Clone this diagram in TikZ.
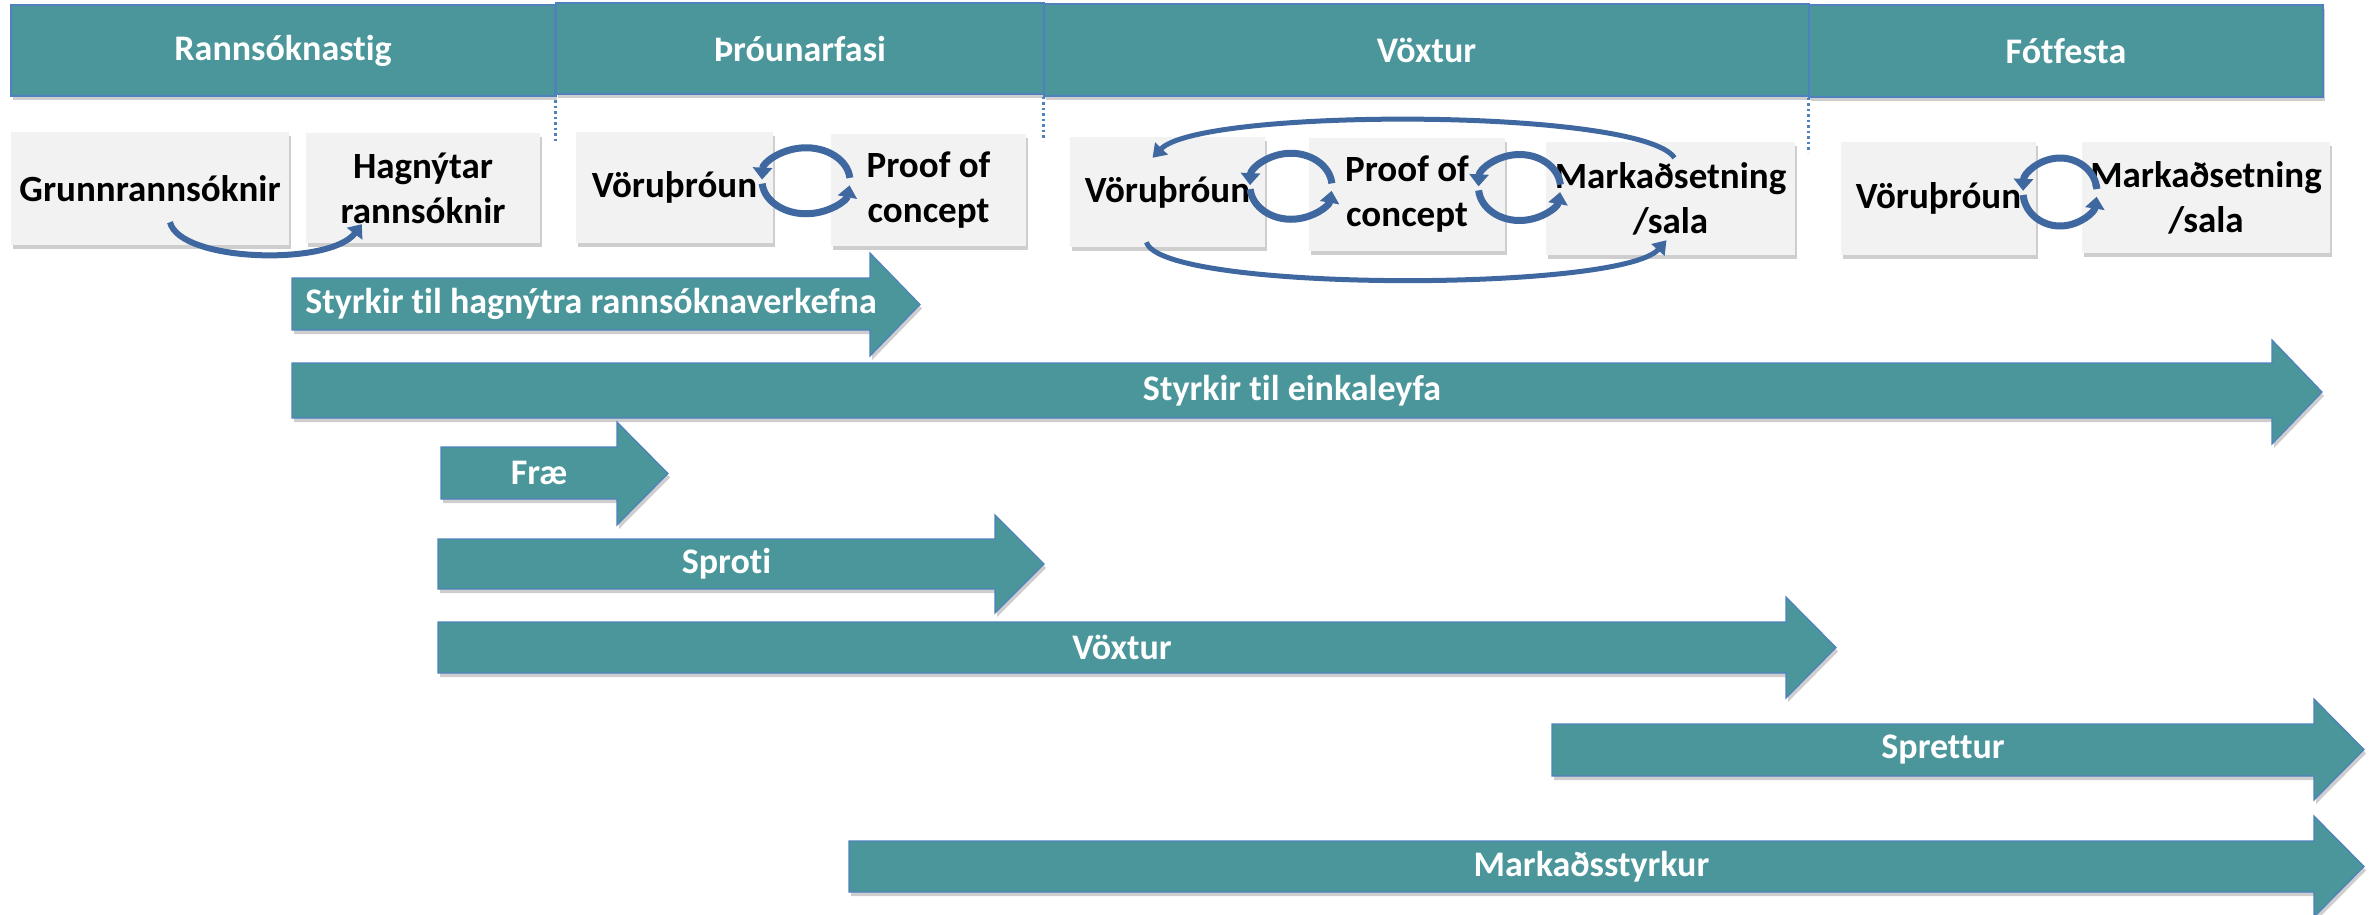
\documentclass[tikz,border=0pt]{standalone}
\usepackage{fontspec}
\setmainfont{Carlito}[Ligatures=NoCommon]
\usetikzlibrary{arrows.meta,shadows,calc}
\definecolor{tealfill}{RGB}{74,150,155}
\definecolor{tealedge}{RGB}{79,129,189}
\definecolor{greyfill}{RGB}{242,242,242}
\definecolor{loopblue}{RGB}{64,104,160}
\definecolor{dotblue}{RGB}{79,129,189}
\tikzset{
  softshadow/.style={drop shadow={shadow xshift=2pt, shadow yshift=-4pt, opacity=0.35, fill=black!55}},
  hdr/.style={fill=tealfill, draw=tealedge, line width=1.2pt, text=white,
    font=\bfseries\fontsize{36}{44}\selectfont, inner sep=0pt, softshadow},
  gbox/.style={fill=greyfill, text=black, align=center,
    font=\bfseries\fontsize{37}{45}\selectfont, inner sep=0pt, softshadow},
  arrbody/.style={fill=tealfill, draw=tealedge, line width=1.2pt, softshadow},
  arrlabel/.style={text=white, font=\bfseries\fontsize{36}{44}\selectfont, inner sep=0pt},
  cyc/.style={draw=loopblue, line width=7pt, -{Triangle[width=19pt,length=12pt]}},
  bigloop/.style={draw=loopblue, line width=5pt, -{Triangle[width=17pt,length=13pt]}},
  dotline/.style={draw=dotblue, line width=2.5pt, dash pattern=on 2.5pt off 3pt}
}
\newcommand\mkbox[7]{\node[#6, minimum width={(#4)-(#2)}, minimum height={(#5)-(#3)}] (#1) at ({((#2)+(#4))/2},{((#3)+(#5))/2}) {#7};}
\newcommand\mkarrow[9]{%
  \path[arrbody] (#1,#4) -- (#2,#4) -- (#2,#6) -- (#3,{((#6)+(#7))/2}) -- (#2,#7) -- (#2,#5) -- (#1,#5) -- cycle;
  \node[arrlabel] (#9) at ({((#1)+(#2))/2+10},{((#4)+(#5))/2}) {#8};}
\begin{document}
\begin{tikzpicture}[x=1pt,y=-1pt]
\useasboundingbox (0,0) rectangle (2377,914);
% header bars
\mkbox{h1}{11}{5}{555}{96}{hdr}{Rannsóknastig}
\mkbox{h2}{556}{3}{1044}{94}{hdr}{Þróunarfasi}
\mkbox{h3}{1044}{4}{1809}{96}{hdr}{Vöxtur}
\mkbox{h4}{1809}{5}{2323}{97}{hdr}{Fótfesta}
% dotted separators
\draw[dotline] (h2.south west) -- ++(0,47);
\draw[dotline] (h3.south west) -- ++(0,44);
\draw[dotline] (h4.south west) -- ++(0,55);
% grey boxes
\mkbox{g1}{11}{132}{289}{245}{gbox}{Grunnrannsóknir}
\mkbox{g2}{306}{133}{540}{243}{gbox}{Hagnýtar\\rannsóknir}
\mkbox{g3}{576}{132}{773}{243}{gbox}{Vöruþróun}
\mkbox{g4}{831}{134}{1026}{246}{gbox}{Proof of\\concept}
\mkbox{g5}{1070}{137}{1265}{247}{gbox}{Vöruþróun}
\mkbox{g6}{1309}{138}{1505}{251}{gbox}{Proof of\\concept}
\mkbox{g7}{1546}{142}{1795}{255}{gbox}{Markaðsetning\\/sala}
\mkbox{g8}{1841}{142}{2036}{255}{gbox}{Vöruþróun}
\mkbox{g9}{2082}{142}{2330}{253}{gbox}{Markaðsetning\\/sala}
% curved arrow g1 -> g2
\draw[cyc, line width=6pt] ($(g1.south)+(20,-23)$) .. controls +(10,40) and +(-32,42) .. ($(g2.south west)+(56,-19)$);
% cycles
\coordinate (c2) at ($(g3.east)!0.5!(g4.west)+(4,-8)$);
\coordinate (c3a) at ($(g5.east)!0.5!(g6.west)+(4,-7)$);
\coordinate (c3b) at ($(g6.east)!0.5!(g7.west)+(-6,-9)$);
\coordinate (c4) at ($(g8.east)!0.5!(g9.west)+(1,-6)$);
\foreach \c/\rx/\ry in {c2/44/33, c3a/41/33, c3b/41/33, c4/37/34}{
  \draw[cyc] (\c) ++(-5:\rx\space and \ry) arc[start angle=-5, end angle=-178, x radius=\rx, y radius=\ry];
  \draw[cyc] (\c) ++(175:\rx\space and \ry) arc[start angle=175, end angle=8, x radius=\rx, y radius=\ry];
}
% big loops in phase 3
\draw[bigloop] ($(g7.north)+(4,16)$) .. controls +(-34,-50) and +(48,-50) .. ($(g5.north)+(-15,21)$);
\draw[bigloop] ($(g5.south)+(-21,-5)$) .. controls +(14,50) and +(-46,52) .. ($(g7.south)+(-4,-15)$);
% big teal arrows
\mkarrow{292}{870}{920}{278}{330}{253}{356}{Styrkir til hagnýtra rannsóknaverkefna}{a1}
\mkarrow{292}{2272}{2322}{363}{418}{340}{444}{Styrkir til einkaleyfa}{a2}
\mkarrow{441}{617}{668}{447}{499}{422}{525}{Fræ}{a3}
\mkarrow{438}{995}{1044}{539}{589}{515}{613}{Sproti}{a4}
\mkarrow{438}{1786}{1836}{622}{673}{597}{698}{Vöxtur}{a5}
\mkarrow{1552}{2314}{2364}{724}{776}{699}{800}{Sprettur}{a6}
\mkarrow{849}{2314}{2364}{841}{892}{816}{917}{Markaðsstyrkur}{a7}
\end{tikzpicture}
\end{document}
